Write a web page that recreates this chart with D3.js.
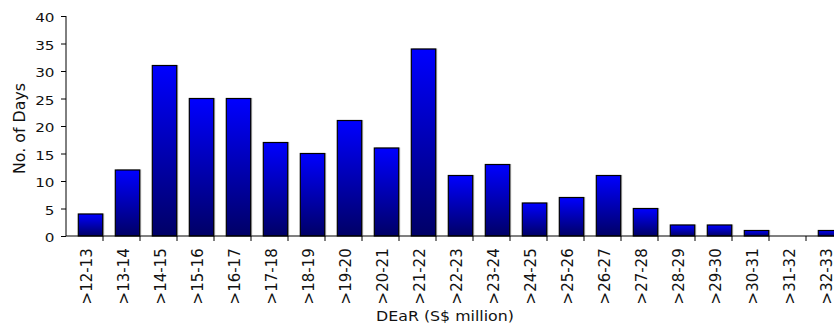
<!DOCTYPE html>
<html>
<head>
<meta charset="utf-8">
<script src="https://cdn.jsdelivr.net/npm/d3@7"></script>
<style>
  html, body { margin: 0; padding: 0; background: #fff; }
  svg { display: block; }
  text { font-family: Verdana, "DejaVu Sans", sans-serif; fill: #111; }
</style>
</head>
<body>
<svg id="chart" width="834" height="336"></svg>
<script>
// DEaR distribution: number of days falling in each S$ million bucket
const categories = [">12-13", ">13-14", ">14-15", ">15-16", ">16-17", ">17-18", ">18-19",
  ">19-20", ">20-21", ">21-22", ">22-23", ">23-24", ">24-25", ">25-26", ">26-27",
  ">27-28", ">28-29", ">29-30", ">30-31", ">31-32", ">32-33"];
const days = [4, 12, 31, 25, 25, 17, 15, 21, 16, 34, 11, 13, 6, 7, 11, 5, 2, 2, 1, 0, 1];
const yTicks = [0, 5, 10, 15, 20, 25, 30, 35, 40];

const svg = d3.select("#chart");
const x0 = 66, bandW = 37.0;
const yTop = 16, yBase = 236;
const widen = 1.17; // horizontal stretch applied to the axis lettering

const x = d3.scaleBand()
  .domain(categories)
  .range([x0, x0 + bandW * categories.length])
  .paddingInner(0).paddingOuter(0);

const y = d3.scaleLinear().domain([0, 40]).range([yBase, yTop]);

// Per-bar vertical gradient: bright blue on top fading to navy
const defs = svg.append("defs");
const grad = defs.append("linearGradient")
  .attr("id", "barFill").attr("x1", 0).attr("y1", 0).attr("x2", 0).attr("y2", 1);
grad.append("stop").attr("offset", "0%").attr("stop-color", "#0000ff");
grad.append("stop").attr("offset", "100%").attr("stop-color", "#000066");

const barData = days.map((d, i) => ({ c: categories[i], v: d })).filter(d => d.v > 0);

// Bars sit toward the right edge of each category slot
const barOffset = 12.3, barW = 24.4;
const bars = svg.append("g").attr("class", "bars");
bars.selectAll("rect.shadow")
  .data(barData)
  .join("rect")
  .attr("class", "shadow")
  .attr("x", d => x(d.c) + barOffset + 1.5)
  .attr("y", d => y(d.v) - 0.5)
  .attr("width", barW)
  .attr("height", d => yBase - y(d.v))
  .attr("fill", "#bbbbbb");
bars.selectAll("rect.bar")
  .data(barData)
  .join("rect")
  .attr("class", "bar")
  .attr("x", d => x(d.c) + barOffset)
  .attr("y", d => y(d.v))
  .attr("width", barW)
  .attr("height", d => yBase - y(d.v))
  .attr("fill", "url(#barFill)")
  .attr("stroke", "#000")
  .attr("stroke-width", 1.2);

// Y axis
const yAxis = d3.axisLeft(y).tickValues(yTicks).tickSize(5);
const gy = svg.append("g").attr("transform", `translate(${x0},0)`).call(yAxis);
gy.select(".domain").attr("stroke", "#000").attr("d", `M0,${yTop}V${yBase}`);
gy.selectAll(".tick line").attr("stroke", "#000");
gy.selectAll(".tick text")
  .attr("x", 0).attr("dy", null).attr("y", 5.6)
  .attr("transform", `translate(-11.5,0) scale(${widen},1)`)
  .attr("text-anchor", "end")
  .attr("fill", "#111")
  .style("font-size", "13px");

// X axis: ticks between categories, labels rotated vertically
const gx = svg.append("g").attr("transform", `translate(0,${yBase})`);
gx.append("line").attr("x1", x0).attr("x2", 834).attr("y1", 0).attr("y2", 0)
  .attr("stroke", "#000");
gx.selectAll("line.tk")
  .data(categories.slice(1))
  .join("line")
  .attr("class", "tk")
  .attr("x1", d => x(d)).attr("x2", d => x(d))
  .attr("y1", 0).attr("y2", 5)
  .attr("stroke", "#000");
gx.selectAll("text.lbl")
  .data(categories)
  .join("text")
  .attr("class", "lbl")
  .attr("transform", d => `translate(${x(d) + 25.8},12.3) rotate(-90) scale(1,1.05)`)
  .attr("text-anchor", "end")
  .style("font-size", "15px")
  .text(d => d);

// Axis titles
svg.append("text")
  .attr("transform", `translate(24.5,128.5) rotate(-90)`)
  .attr("text-anchor", "middle")
  .style("font-size", "15.8px")
  .text("No. of Days");

svg.append("text")
  .attr("transform", `translate(445,320.5) scale(${widen},1)`)
  .attr("text-anchor", "middle")
  .style("font-size", "13.5px")
  .text("DEaR (S$ million)");
</script>
</body>
</html>
